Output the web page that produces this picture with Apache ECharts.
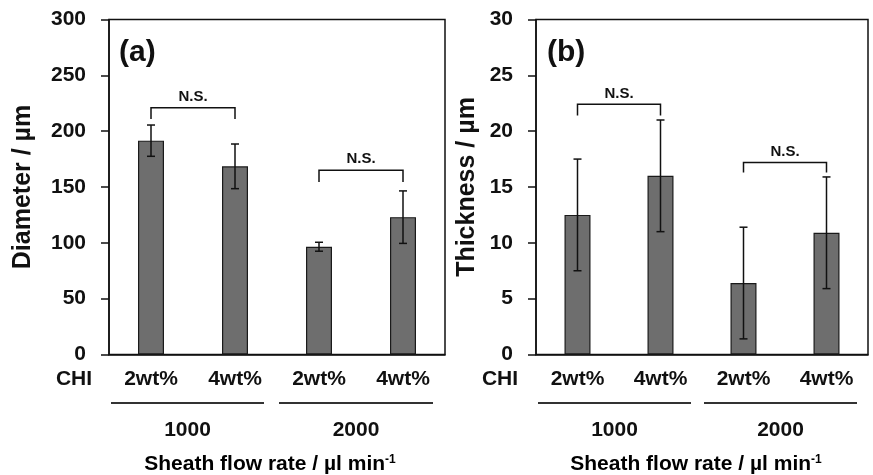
<!DOCTYPE html>
<html>
<head>
<meta charset="utf-8">
<script src="https://cdn.jsdelivr.net/npm/echarts@6/dist/echarts.min.js"></script>
<style>
html, body { margin: 0; padding: 0; background: #fff; }
#chart { width: 873px; height: 475px; }
</style>
</head>
<body>
<div id="chart"></div>
<script>
var categories = ['2wt%', '4wt%', '2wt%', '4wt%'];
var groups = ['1000', '2000'];
var diameterMean = [191.5, 168.5, 96.5, 123];
var diameterSd = [14, 20, 4, 23.5];
var thicknessMean = [12.5, 16, 6.4, 10.9];
var thicknessSd = [5, 5, 5, 5];
// [from category, to category, bracket height, leg end]
var diameterBrackets = [[0, 1, 221, 211], [2, 3, 165, 154.5]];
var thicknessBrackets = [[0, 1, 22.4, 21.4], [2, 3, 17.2, 16.3]];

var FONT = '"Liberation Sans", Arial, sans-serif';
var INK = '#111';

var chart = echarts.init(document.getElementById('chart'));

function errData(m, s) {
    var out = [];
    for (var i = 0; i < m.length; i++) out.push([i, m[i], s[i]]);
    return out;
}

function renderErr(params, api) {
    var x = api.value(0), m = api.value(1), s = api.value(2);
    var top = api.coord([x, m + s]);
    var bot = api.coord([x, m - s]);
    var w = 4;
    var st = { stroke: INK, lineWidth: 1.5 };
    return {
        type: 'group',
        children: [
            { type: 'line', shape: { x1: top[0], y1: top[1], x2: bot[0], y2: bot[1] }, style: st },
            { type: 'line', shape: { x1: top[0] - w, y1: top[1], x2: top[0] + w, y2: top[1] }, style: st },
            { type: 'line', shape: { x1: bot[0] - w, y1: bot[1], x2: bot[0] + w, y2: bot[1] }, style: st }
        ]
    };
}

function renderBracket(params, api) {
    var a = api.coord([api.value(0), api.value(2)]);
    var b = api.coord([api.value(1), api.value(2)]);
    var la = api.coord([api.value(0), api.value(3)]);
    var st = { stroke: INK, lineWidth: 1.5, fill: null };
    return {
        type: 'group',
        children: [
            { type: 'polyline', shape: { points: [[a[0], la[1]], a, b, [b[0], la[1]]] }, style: st },
            {
                type: 'text',
                style: {
                    text: 'N.S.', x: (a[0] + b[0]) / 2, y: a[1] - 11,
                    align: 'center', verticalAlign: 'middle',
                    font: 'bold 15px ' + FONT, fill: INK
                }
            }
        ]
    };
}

// underline + group label under each pair of bars
function groupDecor(xs) {
    var out = [];
    for (var g = 0; g < groups.length; g++) {
        out.push({
            type: 'line', silent: true,
            shape: { x1: xs[g][0], y1: 403, x2: xs[g][1], y2: 403 },
            style: { stroke: '#333', lineWidth: 1.8 }
        });
        out.push({
            type: 'text', silent: true,
            style: {
                text: groups[g], x: (xs[g][0] + xs[g][1]) / 2, y: 430,
                align: 'center', verticalAlign: 'middle',
                font: 'bold 21px ' + FONT, fill: INK
            }
        });
    }
    return out;
}

var axisLabelStyle = { fontFamily: FONT, fontWeight: 'bold', fontSize: 21, color: INK };

var graphics = []
    .concat(groupDecor([[111, 264], [279, 433]]))
    .concat(groupDecor([[538, 691], [704, 857]]));

graphics.push(
    { type: 'text', style: { text: '(a)', x: 119, y: 53, verticalAlign: 'middle', font: 'bold 30px ' + FONT, fill: INK } },
    { type: 'text', style: { text: '(b)', x: 547, y: 53, verticalAlign: 'middle', font: 'bold 30px ' + FONT, fill: INK } },
    { type: 'text', style: { text: 'CHI', x: 74, y: 379, align: 'center', verticalAlign: 'middle', font: 'bold 21px ' + FONT, fill: INK } },
    { type: 'text', style: { text: 'CHI', x: 500, y: 379, align: 'center', verticalAlign: 'middle', font: 'bold 21px ' + FONT, fill: INK } }
);

var xTitleRich = {
    base: { fontFamily: FONT, fontWeight: 'bold', fontSize: 21, color: INK },
    sup: { fontFamily: FONT, fontWeight: 'bold', fontSize: 12, color: INK, verticalAlign: 'top', padding: [0, 0, 9, 0] }
};
graphics.push(
    { type: 'text', style: { text: '{base|Sheath flow rate / µl min}{sup|-1}', rich: xTitleRich, x: 270, y: 464, align: 'center', verticalAlign: 'middle' } },
    { type: 'text', style: { text: '{base|Sheath flow rate / µl min}{sup|-1}', rich: xTitleRich, x: 696, y: 464, align: 'center', verticalAlign: 'middle' } }
);

function makeX(i) {
    return {
        type: 'category', gridIndex: i, data: categories,
        axisLine: { lineStyle: { color: INK, width: 1.5 } },
        axisTick: { show: false },
        axisLabel: Object.assign({ margin: 14, interval: 0 }, axisLabelStyle)
    };
}

function makeY(i, max, step, name, gap) {
    return {
        type: 'value', gridIndex: i, min: 0, max: max, interval: step,
        name: name, nameLocation: 'middle', nameRotate: 90, nameGap: gap,
        nameTextStyle: { fontFamily: FONT, fontWeight: 'bold', fontSize: 25, color: INK },
        axisLine: { show: true, lineStyle: { color: INK, width: 1.5 } },
        axisTick: { show: true, inside: false, length: 8, lineStyle: { color: INK, width: 1.5 } },
        axisLabel: Object.assign({ margin: 23 }, axisLabelStyle),
        splitLine: { show: false }
    };
}

var barStyle = { color: '#6e6e6e', borderColor: '#1a1a1a', borderWidth: 1.2 };

var option = {
    backgroundColor: '#fff',
    animation: false,
    grid: [
        { left: 109, right: 428, top: 19.5, bottom: 120.5, show: true, borderColor: INK, borderWidth: 1.5 },
        { left: 536, right: 5, top: 19.5, bottom: 120.5, show: true, borderColor: INK, borderWidth: 1.5 }
    ],
    xAxis: [makeX(0), makeX(1)],
    yAxis: [
        makeY(0, 300, 50, 'Diameter / µm', 73),
        makeY(1, 30, 5, 'Thickness / µm', 56)
    ],
    graphic: graphics,
    series: [
        { type: 'bar', xAxisIndex: 0, yAxisIndex: 0, data: diameterMean, barWidth: 26, itemStyle: barStyle },
        { type: 'custom', xAxisIndex: 0, yAxisIndex: 0, data: errData(diameterMean, diameterSd), renderItem: renderErr, z: 5 },
        { type: 'custom', xAxisIndex: 0, yAxisIndex: 0, data: diameterBrackets, renderItem: renderBracket, z: 5 },
        { type: 'bar', xAxisIndex: 1, yAxisIndex: 1, data: thicknessMean, barWidth: 26, itemStyle: barStyle },
        { type: 'custom', xAxisIndex: 1, yAxisIndex: 1, data: errData(thicknessMean, thicknessSd), renderItem: renderErr, z: 5 },
        { type: 'custom', xAxisIndex: 1, yAxisIndex: 1, data: thicknessBrackets, renderItem: renderBracket, z: 5 }
    ]
};

chart.setOption(option);
</script>
</body>
</html>
